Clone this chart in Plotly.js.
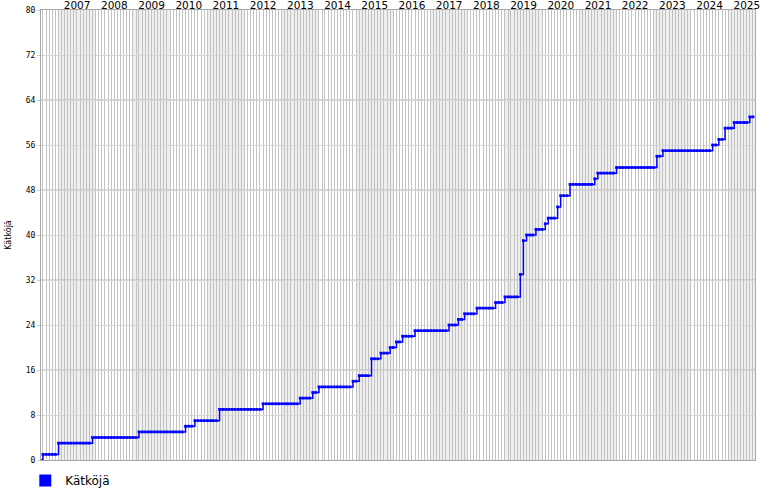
<!DOCTYPE html>
<html>
<head>
<meta charset="utf-8">
<script src="https://cdn.plot.ly/plotly-3.0.1.min.js"></script>
<style>html,body{margin:0;padding:0;background:#fff;}#chart{width:770px;height:500px;}</style>
</head>
<body>
<div id="chart"></div>
<script>
const seriesName = 'Kätköjä';
const yTitle = 'Kätköjä';

const months = [
  '2006-07','2006-08','2006-09','2006-10','2006-11','2006-12',
  '2007-01','2007-02','2007-03','2007-04','2007-05','2007-06','2007-07','2007-08','2007-09','2007-10','2007-11','2007-12',
  '2008-01','2008-02','2008-03','2008-04','2008-05','2008-06','2008-07','2008-08','2008-09','2008-10','2008-11','2008-12',
  '2009-01','2009-02','2009-03','2009-04','2009-05','2009-06','2009-07','2009-08','2009-09','2009-10','2009-11','2009-12',
  '2010-01','2010-02','2010-03','2010-04','2010-05','2010-06','2010-07','2010-08','2010-09','2010-10','2010-11','2010-12',
  '2011-01','2011-02','2011-03','2011-04','2011-05','2011-06','2011-07','2011-08','2011-09','2011-10','2011-11','2011-12',
  '2012-01','2012-02','2012-03','2012-04','2012-05','2012-06','2012-07','2012-08','2012-09','2012-10','2012-11','2012-12',
  '2013-01','2013-02','2013-03','2013-04','2013-05','2013-06','2013-07','2013-08','2013-09','2013-10','2013-11','2013-12',
  '2014-01','2014-02','2014-03','2014-04','2014-05','2014-06','2014-07','2014-08','2014-09','2014-10','2014-11','2014-12',
  '2015-01','2015-02','2015-03','2015-04','2015-05','2015-06','2015-07','2015-08','2015-09','2015-10','2015-11','2015-12',
  '2016-01','2016-02','2016-03','2016-04','2016-05','2016-06','2016-07','2016-08','2016-09','2016-10','2016-11','2016-12',
  '2017-01','2017-02','2017-03','2017-04','2017-05','2017-06','2017-07','2017-08','2017-09','2017-10','2017-11','2017-12',
  '2018-01','2018-02','2018-03','2018-04','2018-05','2018-06','2018-07','2018-08','2018-09','2018-10','2018-11','2018-12',
  '2019-01','2019-02','2019-03','2019-04','2019-05','2019-06','2019-07','2019-08','2019-09','2019-10','2019-11','2019-12',
  '2020-01','2020-02','2020-03','2020-04','2020-05','2020-06','2020-07','2020-08','2020-09','2020-10','2020-11','2020-12',
  '2021-01','2021-02','2021-03','2021-04','2021-05','2021-06','2021-07','2021-08','2021-09','2021-10','2021-11','2021-12',
  '2022-01','2022-02','2022-03','2022-04','2022-05','2022-06','2022-07','2022-08','2022-09','2022-10','2022-11','2022-12',
  '2023-01','2023-02','2023-03','2023-04','2023-05','2023-06','2023-07','2023-08','2023-09','2023-10','2023-11','2023-12',
  '2024-01','2024-02','2024-03','2024-04','2024-05','2024-06','2024-07','2024-08','2024-09','2024-10','2024-11','2024-12',
  '2025-01','2025-02','2025-03','2025-04','2025-05','2025-06','2025-07','2025-08','2025-09'
];

const counts = [
  0,1,1,1,1,1,
  3,3,3,3,3,3,3,3,3,3,3,4,
  4,4,4,4,4,4,4,4,4,4,4,4,
  4,4,5,5,5,5,5,5,5,5,5,5,
  5,5,5,5,5,6,6,6,7,7,7,7,
  7,7,7,7,9,9,9,9,9,9,9,9,
  9,9,9,9,9,9,10,10,10,10,10,10,
  10,10,10,10,10,10,11,11,11,11,12,12,
  13,13,13,13,13,13,13,13,13,13,13,14,
  14,15,15,15,15,18,18,18,19,19,19,20,
  20,21,21,22,22,22,22,23,23,23,23,23,
  23,23,23,23,23,23,24,24,24,25,25,26,
  26,26,26,27,27,27,27,27,27,28,28,28,
  29,29,29,29,29,33,39,40,40,40,41,41,
  41,42,43,43,43,45,47,47,47,49,49,49,
  49,49,49,49,49,50,51,51,51,51,51,51,
  52,52,52,52,52,52,52,52,52,52,52,52,
  52,54,54,55,55,55,55,55,55,55,55,55,
  55,55,55,55,55,55,55,56,56,57,57,59,
  59,59,60,60,60,60,60,61,61
];

const shadedYears = [2007, 2009, 2011, 2013, 2015, 2017, 2019, 2021, 2023, 2025];
const yTicks = [0, 8, 16, 24, 32, 40, 48, 56, 64, 72, 80];

const shapes = [];
shadedYears.forEach(function (yr) {
  shapes.push({
    type: 'rect', layer: 'below', xref: 'x', yref: 'paper',
    x0: yr + '-01-01', x1: (yr + 1) + '-01-01', y0: 0, y1: 1,
    fillcolor: '#eeeeee', line: {width: 0}
  });
});
yTicks.forEach(function (v) {
  if (v % 16 === 0 && v > 0 && v < 80) {
    shapes.push({
      type: 'line', layer: 'between', xref: 'paper', yref: 'y',
      x0: 0, x1: 1, y0: v, y1: v,
      line: {color: '#b2b2b2', width: 1}
    });
  }
});

const traces = [
  {
    type: 'scatter', mode: 'lines+markers',
    x: months, y: counts, name: seriesName, showlegend: false,
    line: {color: '#0000ff', width: 1.5, shape: 'hv'},
    marker: {color: '#0000ff', size: 2.8, symbol: 'square'},
    hoverinfo: 'x+y'
  },
  {
    type: 'bar', x: [null], y: [null], name: seriesName,
    marker: {color: '#0000ff'}, showlegend: true, hoverinfo: 'skip'
  }
];

const layout = {
  width: 770, height: 500,
  margin: {l: 41, r: 15, t: 10, b: 40, pad: 0, autoexpand: false},
  paper_bgcolor: '#ffffff', plot_bgcolor: '#ffffff',
  font: {family: 'DejaVu Sans, sans-serif', color: '#000000'},
  showlegend: true,
  legend: {
    orientation: 'h', x: -0.022, xanchor: 'left',
    yref: 'container', y: 0.068, yanchor: 'top',
    font: {size: 12, family: 'DejaVu Sans, sans-serif', color: '#000'},
    bgcolor: 'rgba(0,0,0,0)', borderwidth: 0
  },
  xaxis: {
    type: 'date', side: 'top',
    range: ['2006-07-13', '2025-09-21'],
    tick0: '2007-01-01', dtick: 'M12', tickformat: '%Y', ticklabelmode: 'period',
    ticks: '', ticklabelstandoff: -4,
    showgrid: true, gridcolor: '#c2c2c2', gridwidth: 1,
    minor: {dtick: 'M1', showgrid: true, gridcolor: '#c2c2c2', gridwidth: 1, ticks: ''},
    tickfont: {size: 10.5, family: 'DejaVu Sans, sans-serif', color: '#000'},
    showline: true, linecolor: '#a8a8a8', linewidth: 1, mirror: true,
    zeroline: false, fixedrange: true, automargin: false
  },
  yaxis: {
    range: [0, 80], tickvals: yTicks, ticktext: yTicks.map(String),
    ticks: 'outside', ticklen: 3, tickcolor: '#cccccc',
    showgrid: true, gridcolor: '#d6d6d6', gridwidth: 1,
    tickfont: {size: 8, family: 'DejaVu Sans Mono, monospace', color: '#000'},
    title: {text: yTitle, font: {size: 8, family: 'DejaVu Sans, sans-serif', color: '#000'}, standoff: 12},
    showline: true, linecolor: '#a8a8a8', linewidth: 1, mirror: true,
    zeroline: false, fixedrange: true, automargin: false
  },
  shapes: shapes,
  bargap: 0
};

Plotly.newPlot('chart', traces, layout, {displayModeBar: false, staticPlot: true});
</script>
</body>
</html>
